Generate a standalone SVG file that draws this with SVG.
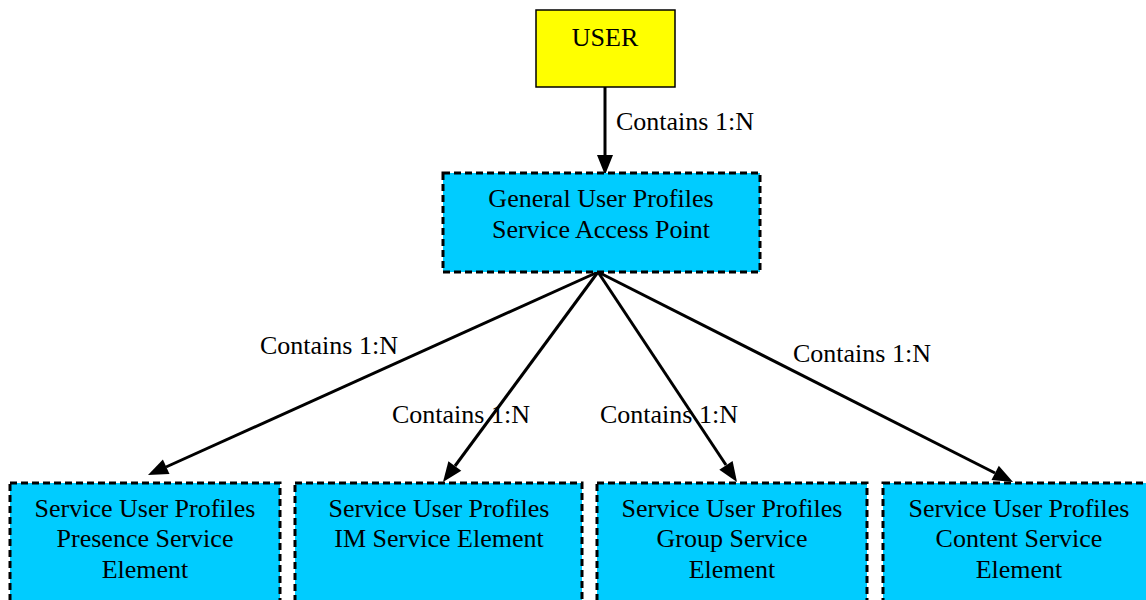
<svg xmlns="http://www.w3.org/2000/svg" width="1146" height="600" viewBox="0 0 1146 600">
<style>
text{font-family:'Liberation Serif','Tinos','Nimbus Roman','Times New Roman','DejaVu Serif','Noto Serif',serif;font-size:26px;fill:#000}
.c{text-anchor:middle}
.box{fill:#00CCFF;stroke:#000;stroke-width:3;stroke-dasharray:7 4}
.edge{stroke:#000;stroke-width:3;fill:none}
.head{fill:#000;stroke:none}
</style>
<rect width="1146" height="600" fill="#fff"/>
<g id="connectors">
<line class="edge" x1="605" y1="87" x2="605" y2="156"/>
<polygon class="head" points="597,155 613,155 605,175"/>
<line class="edge" x1="598" y1="272" x2="166" y2="467"/>
<polygon class="head" points="162.9,459.5 169.5,474.1 148,475"/>
<line class="edge" x1="598" y1="272" x2="455" y2="466"/>
<polygon class="head" points="448.4,461.2 461.3,470.7 443,482"/>
<line class="edge" x1="598" y1="272" x2="726" y2="465"/>
<polygon class="head" points="719.3,469.7 732.6,460.9 737,482"/>
<line class="edge" x1="598" y1="272" x2="995" y2="473"/>
<polygon class="head" points="991.5,480.1 998.8,465.8 1013,482"/>
<text x="616" y="130">Contains 1:N</text>
<text x="260" y="354">Contains 1:N</text>
<text x="392" y="423">Contains 1:N</text>
<text x="600" y="423">Contains 1:N</text>
<text x="793" y="362">Contains 1:N</text>
</g>
<g id="user">
<rect x="536" y="10" width="139" height="77" fill="#FFFF00" stroke="#000" stroke-width="1.5"/>
<text class="c" x="605" y="46">USER</text>
</g>
<g id="gup">
<rect class="box" x="443" y="173" width="317" height="99"/>
<text class="c" x="601" y="207">General User Profiles</text>
<text class="c" x="601" y="238">Service Access Point</text>
</g>
<g id="presence">
<rect class="box" x="10" y="483" width="270" height="130"/>
<text class="c" x="145" y="517">Service User Profiles</text>
<text class="c" x="145" y="547">Presence Service</text>
<text class="c" x="145" y="578">Element</text>
</g>
<g id="im">
<rect class="box" x="295" y="483" width="287" height="130"/>
<text class="c" x="439" y="517">Service User Profiles</text>
<text class="c" x="439" y="547">IM Service Element</text>
</g>
<g id="group">
<rect class="box" x="597" y="483" width="270" height="130"/>
<text class="c" x="732" y="517">Service User Profiles</text>
<text class="c" x="732" y="547">Group Service</text>
<text class="c" x="732" y="578">Element</text>
</g>
<g id="content">
<rect class="box" x="883" y="483" width="272" height="130"/>
<text class="c" x="1019" y="517">Service User Profiles</text>
<text class="c" x="1019" y="547">Content Service</text>
<text class="c" x="1019" y="578">Element</text>
</g>
</svg>
